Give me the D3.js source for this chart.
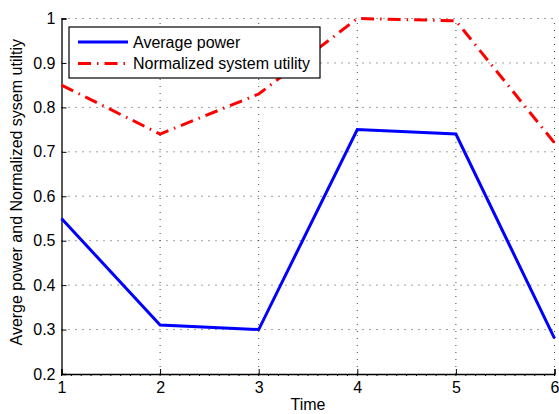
<!DOCTYPE html>
<html lang="en">
<head>
<meta charset="UTF-8">
<title>Average power and normalized system utility</title>
<script src="https://d3js.org/d3.v7.min.js"></script>
<style>
  body { margin: 0; background: #fff; }
  text { font-family: "Liberation Sans", Arial, sans-serif; fill: #000; }
</style>
</head>
<body>
<script>
const times = [1, 2, 3, 4, 5, 6];
const avgPower = [0.55, 0.31, 0.30, 0.75, 0.74, 0.28];
const sysUtility = [0.85, 0.74, 0.83, 1.0, 0.995, 0.72];
const xTicks = [1, 2, 3, 4, 5, 6];
const yTicks = [0.2, 0.3, 0.4, 0.5, 0.6, 0.7, 0.8, 0.9, 1];

const width = 559, height = 414;
const margin = {left: 61.5, right: 4.5, top: 18.5, bottom: 40};
const fontSize = 16;

const svg = d3.select("body").append("svg")
  .attr("width", width).attr("height", height);

const x = d3.scaleLinear().domain([1, 6]).range([margin.left, width - margin.right]);
const y = d3.scaleLinear().domain([0.2, 1]).range([height - margin.bottom, margin.top]);

// dotted grid
const grid = svg.append("g").attr("stroke", "#444").attr("stroke-width", 1)
  .attr("stroke-dasharray", "1,6").attr("fill", "none");
xTicks.slice(1).forEach(t => {
  grid.append("line").attr("x1", x(t)).attr("x2", x(t))
    .attr("y1", y(0.2)).attr("y2", y(1));
});
yTicks.slice(1).forEach(t => {
  grid.append("line").attr("x1", x(1)).attr("x2", x(6))
    .attr("y1", y(t)).attr("y2", y(t));
});

// minor ticks on the bottom axis
const minor = d3.range(1, 6.001, 0.1);
svg.append("g").selectAll("line").data(minor).join("line")
  .attr("x1", d => x(d)).attr("x2", d => x(d))
  .attr("y1", y(0.2)).attr("y2", y(0.2) + 2)
  .attr("stroke", "#000").attr("stroke-width", 1);

// axes
const xAxis = d3.axisBottom(x).tickValues(xTicks).tickSize(-5).tickPadding(8)
  .tickFormat(d3.format("d"));
const yAxis = d3.axisLeft(y).tickValues(yTicks).tickSize(-5).tickPadding(6)
  .tickFormat(d => d === 1 ? "1" : d3.format(".1f")(d));

const gx = svg.append("g").attr("transform", `translate(0,${y(0.2)})`).call(xAxis);
const gy = svg.append("g").attr("transform", `translate(${x(1)},0)`).call(yAxis);
[gx, gy].forEach(g => {
  g.select(".domain").attr("stroke", "#000").attr("stroke-width", 1.3);
  g.selectAll(".tick line").attr("stroke", "#000");
  g.selectAll(".tick text").attr("font-size", fontSize).attr("fill", "#000")
    .style("font-family", "'Liberation Sans', Arial, sans-serif");
});

// lines
const line = d3.line().x((d, i) => x(times[i])).y(d => y(d));
const plot = svg.append("g");
plot.append("path").datum(avgPower).attr("d", line)
  .attr("fill", "none").attr("stroke", "#0000ff").attr("stroke-width", 3);
plot.append("path").datum(sysUtility).attr("d", line)
  .attr("fill", "none").attr("stroke", "#ff0000").attr("stroke-width", 3)
  .attr("stroke-dasharray", "13,6,1.5,6");

// axis labels
svg.append("text").attr("x", (x(1) + x(6)) / 2).attr("y", 410)
  .attr("text-anchor", "middle").attr("font-size", fontSize).text("Time");
svg.append("text")
  .attr("transform", `translate(22,${(y(0.2) + y(1)) / 2 - 4}) rotate(-90)`)
  .attr("text-anchor", "middle").attr("font-size", fontSize)
  .text("Averge power and Normalized sysem utiltiy");

// legend
const legend = svg.append("g");
legend.append("rect").attr("x", 69).attr("y", 27).attr("width", 251).attr("height", 51)
  .attr("fill", "#fff").attr("stroke", "#000").attr("stroke-width", 1.2);
const items = [
  {label: "Average power", color: "#0000ff", dash: null},
  {label: "Normalized system utility", color: "#ff0000", dash: "13,6,1.5,6"}
];
items.forEach((it, i) => {
  const cy = 42 + i * 21.5;
  legend.append("line").attr("x1", 78).attr("x2", 128).attr("y1", cy).attr("y2", cy)
    .attr("stroke", it.color).attr("stroke-width", 3)
    .attr("stroke-dasharray", it.dash);
  legend.append("text").attr("x", 133).attr("y", cy + 5.5).attr("font-size", fontSize)
    .text(it.label);
});
</script>
</body>
</html>
